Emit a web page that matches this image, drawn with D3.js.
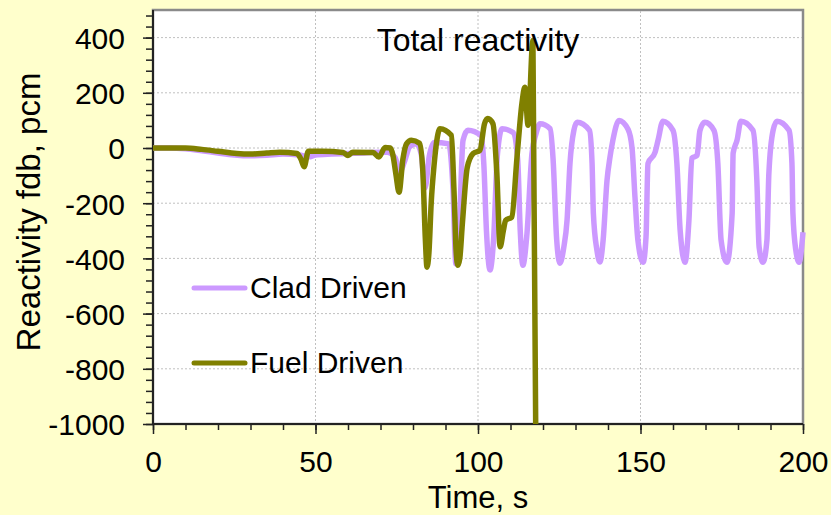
<!DOCTYPE html>
<html>
<head>
<meta charset="utf-8">
<script src="https://cdn.jsdelivr.net/npm/d3@7"></script>
<style>
  html, body { margin: 0; padding: 0; background: #FFFFCC; }
  svg { display: block; }
  text { font-family: "Liberation Sans", Arial, sans-serif; fill: #000; }
</style>
</head>
<body>
<svg id="chart" width="831" height="515"></svg>
<script>
// ---- data ----
const cladTime = [0,5,10,15,20,25,30,35,40,45,48,50,55,60,65,70,72,74.5,76,77.5,79,81,82.5,83.7,85,86.5,91,92.3,93.2,94.2,95.4,96.9,101,101.8,102.6,103.7,104.8,106,107.4,110.8,112.2,113,113.8,115,116.6,117.8,119.1,122.2,123.1,124.2,125.2,126.4,127.4,128.3,129.5,130.5,134.3,135.1,135.5,136.6,137.5,138.5,139.7,140.6,141.5,143.4,146.2,147.4,148.3,149.2,150.8,151.7,152.3,154.5,155.4,156.9,160.0,161.2,162.2,163.7,164.9,165.8,167.4,168.3,169.8,172.6,173.8,174.8,176.6,178.2,178.5,179.7,180.9,184.6,185.8,186.5,187.7,188.9,189.5,190.8,192.0,195.7,196.6,196.9,197.8,198.8,200];
const cladValue = [0,0,-3,-10,-18,-25,-28,-26,-22,-25,-32,-25,-22,-20,-18,-15,-15,-35,-85,-45,5,15,-20,-145,-30,20,15,-150,-420,-300,28,64,44,-60,-300,-442,-330,-20,70,56,-40,-300,-425,-320,-20,50,88,70,-40,-330,-418,-360,-262,-56,64,93,64,-56,-237,-371,-413,-334,-117,-34,28,100,67,0,-178,-334,-414,-322,-56,-15,28,97,64,-56,-298,-414,-262,-37,-27,64,93,64,-56,-334,-414,-237,-19,28,97,64,-117,-359,-414,-334,-92,64,97,64,-56,-237,-371,-414,-305];

const fuelTime = [0,10,15,20,25.8,30,35,39,44.3,45.5,46.5,47.8,52,58.5,60,61.5,67.7,69.5,71.4,73,73.8,74.8,75.7,76.9,78,79.5,82,83,83.8,84.3,84.9,85.6,86.5,87.5,88.3,91.8,92.6,93.3,93.8,94.4,95.2,96.7,98.5,100.6,102,103,104.6,105.8,106.8,107.8,108.5,110.4,112,113.5,114.4,115.4,116.9,117.75];
const fuelValue = [0,0,-5,-12,-20,-22,-18,-15,-20,-40,-68,-12,-12,-16,-27,-15,-16,-33,2,0,-25,-100,-160,-40,15,28,17,-80,-330,-432,-380,-200,-60,40,70,46,-150,-380,-425,-400,-273,-70,-20,-8,88,107,88,-92,-358,-300,-262,-250,-34,160,220,82,390,-1000];

const xMajorTicks = [0,50,100,150,200];
const yMajorTicks = [-1000,-800,-600,-400,-200,0,200,400];
const xGridTicks = [50,100,150];
const yGridTicks = [-800,-600,-400,-200,0,200,400];
const seriesNames = ["Clad Driven","Fuel Driven"];
const titleText = "Total reactivity";
const xTitle = "Time, s";
const yTitle = "Reactivity fdb, pcm";

// ---- layout ----
const L = 153, R = 803, T = 10, B = 424;
const svg = d3.select("#chart");
const FS = 30;
const colors = { clad: "#CC99FF", fuel: "#808000" };
const fmt = d => String(d);

svg.append("rect").attr("width",831).attr("height",515).attr("fill","#FFFFCC");

const x = d3.scaleLinear().domain([0,200]).range([L,R]);
const y = d3.scaleLinear().domain([-1000,500]).range([B,T]);

// plot area
svg.append("rect").attr("x",L).attr("y",T).attr("width",R-L).attr("height",B-T)
  .attr("fill","#fff").attr("stroke","#8a8a8a").attr("stroke-width",2.5);

// grid
const grid = svg.append("g").attr("stroke","#c0c0c0").attr("stroke-width",1).attr("stroke-dasharray","2,2");
grid.selectAll(".gx").data(xGridTicks).join("line")
  .attr("x1",d=>x(d)).attr("x2",d=>x(d)).attr("y1",T+1).attr("y2",B);
grid.selectAll(".gy").data(yGridTicks).join("line")
  .attr("x1",L).attr("x2",R-1).attr("y1",d=>y(d)).attr("y2",d=>y(d));

// axes
const xMinor = d3.range(0,201,10);
const yMinor = d3.range(-1000,481,40);
const gx = svg.append("g").attr("transform",`translate(0,${B})`);
gx.call(d3.axisBottom(x).tickValues(xMinor).tickSize(6).tickFormat(""));
gx.call(g=>g.select(".domain").remove());
const gx2 = svg.append("g").attr("transform",`translate(0,${B})`);
gx2.call(d3.axisBottom(x).tickValues(xMajorTicks).tickSize(10).tickFormat(fmt));
gx2.select(".domain").attr("stroke","#222").attr("stroke-width",2).attr("d",`M${L},0H${R}`);
gx2.selectAll("text").attr("font-size",FS).attr("font-family","Liberation Sans, Arial").attr("fill","#000")
  .attr("dy",null).attr("y",48);

const gy = svg.append("g").attr("transform",`translate(${L},0)`);
gy.call(d3.axisLeft(y).tickValues(yMinor).tickSize(7).tickFormat(""));
gy.call(g=>g.select(".domain").remove());
const gy2 = svg.append("g").attr("transform",`translate(${L},0)`);
gy2.call(d3.axisLeft(y).tickValues(yMajorTicks).tickSize(10).tickFormat(fmt));
gy2.select(".domain").attr("stroke","#222").attr("stroke-width",2).attr("d",`M0,${T}V${B}`);
gy2.selectAll("text").attr("font-size",FS).attr("font-family","Liberation Sans, Arial").attr("fill","#000")
  .attr("x",-28).attr("dy","0.36em");
svg.selectAll("g.tick line").attr("stroke","#222").attr("stroke-width",1.5);

// lines
svg.append("clipPath").attr("id","clip").append("rect")
  .attr("x",L).attr("y",T-5).attr("width",R-L+3).attr("height",B-T+8);
const line = d3.line().x(d=>x(d[0])).y(d=>y(d[1])).curve(d3.curveMonotoneX);
const cladData = cladTime.map((t,i)=>[t,cladValue[i]]);
const fuelData = fuelTime.map((t,i)=>[t,fuelValue[i]]);
const lg = svg.append("g").attr("clip-path","url(#clip)");
lg.append("path").datum(cladData).attr("d",line).attr("fill","none")
  .attr("stroke",colors.clad).attr("stroke-width",5.5).attr("stroke-linejoin","round");
lg.append("path").datum(fuelData).attr("d",line).attr("fill","none")
  .attr("stroke",colors.fuel).attr("stroke-width",5.5).attr("stroke-linejoin","round");

// title
svg.append("text").attr("x",478).attr("y",51).attr("text-anchor","middle")
  .attr("font-size",32).text(titleText);

// legend
const leg = [{n:seriesNames[0],c:colors.clad,y:288},{n:seriesNames[1],c:colors.fuel,y:363}];
leg.forEach(d=>{
  svg.append("line").attr("x1",194).attr("x2",245).attr("y1",d.y).attr("y2",d.y)
    .attr("stroke",d.c).attr("stroke-width",5).attr("stroke-linecap","round");
  svg.append("text").attr("x",250).attr("y",d.y+10).attr("font-size",FS).text(d.n);
});

// axis titles
svg.append("text").attr("x",478).attr("y",508).attr("text-anchor","middle").attr("font-size",31).text(xTitle);
svg.append("text").attr("transform","translate(40,212) rotate(-90)").attr("text-anchor","middle")
  .attr("font-size",33).text(yTitle);
</script>
</body>
</html>
